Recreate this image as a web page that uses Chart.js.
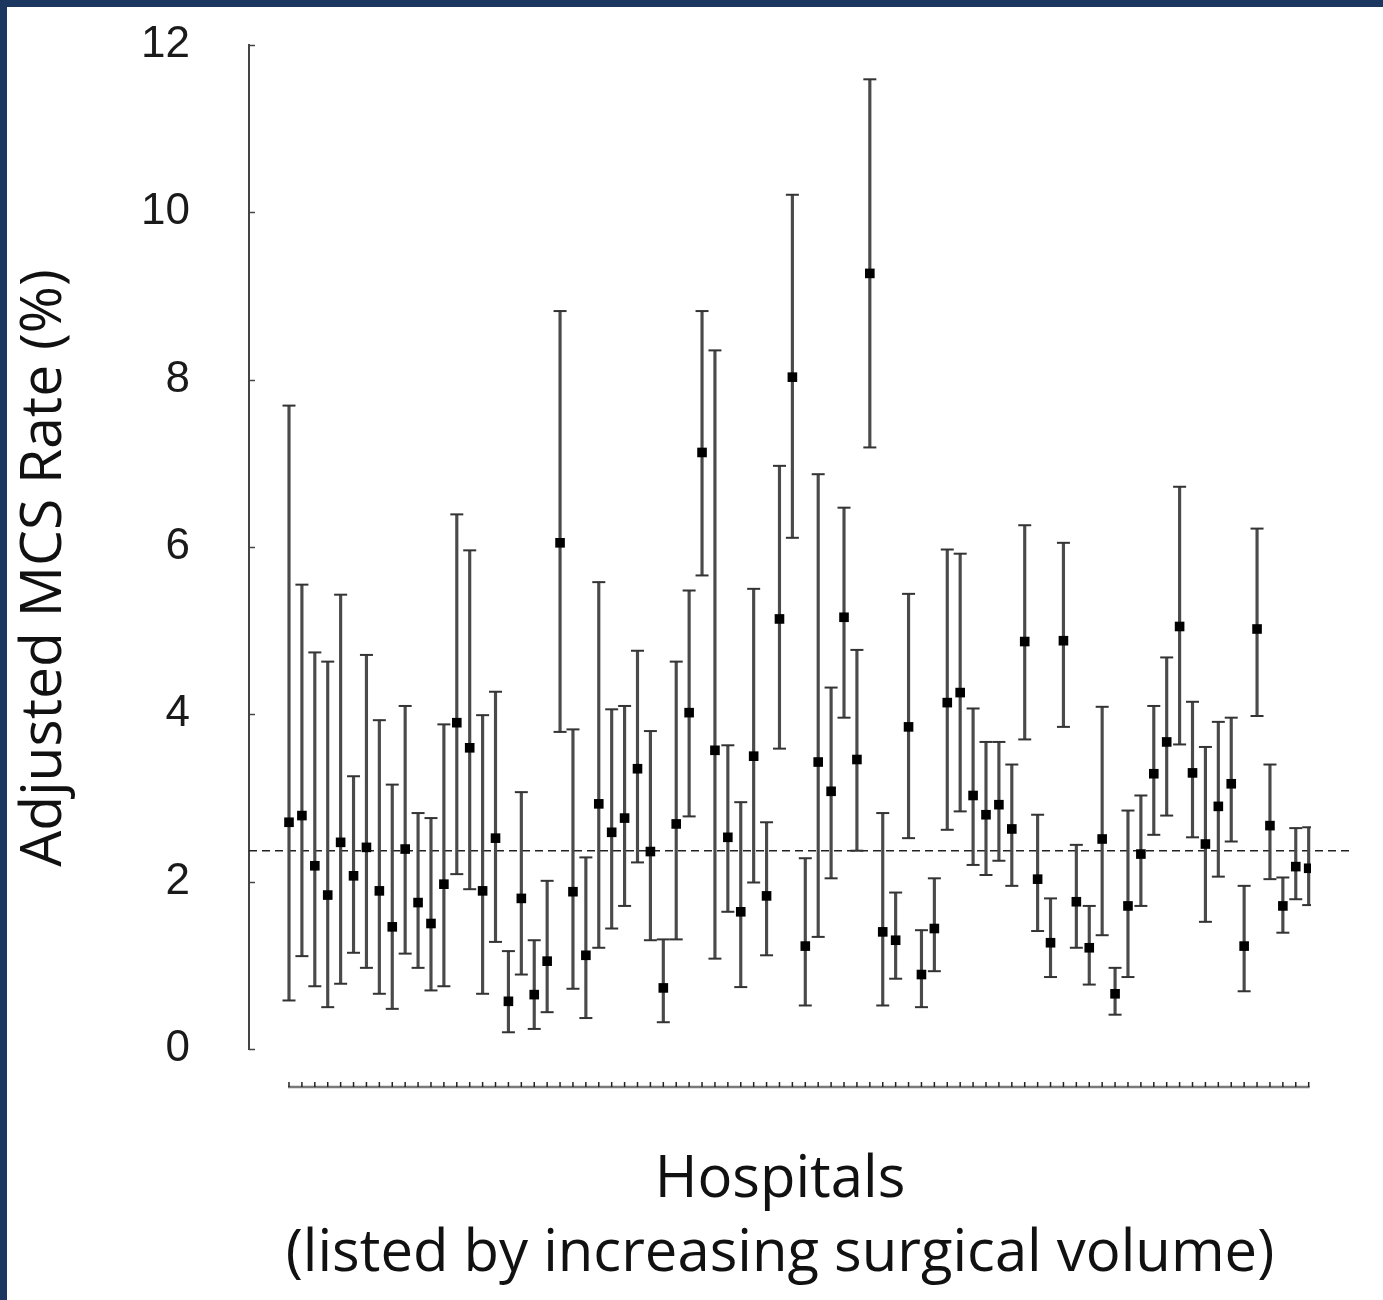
<!DOCTYPE html>
<html><head><meta charset="utf-8">
<script src="https://cdn.jsdelivr.net/npm/chart.js@4.4.1/dist/chart.umd.min.js"></script>
<style>
html,body{margin:0;padding:0;background:#1b3760;width:1383px;height:1300px;overflow:hidden}
#wrap{position:absolute;left:7px;top:7px;width:1376px;height:1293px;background:#fff}
canvas{display:block}
</style></head><body><div id="wrap"><canvas id="c" width="1376" height="1293"></canvas></div>
<script>
// Adjusted MCS rate (%) per hospital, listed by increasing surgical volume
const rate = [2.71,2.79,2.19,1.84,2.47,2.07,2.41,1.89,1.46,2.39,1.75,1.50,1.97,3.90,3.60,1.89,2.52,0.57,1.80,0.65,
              1.05,6.05,1.88,1.12,2.93,2.59,2.76,3.35,2.36,0.73,2.69,4.02,7.13,3.57,2.53,1.64,3.50,1.83,5.14,8.03,
              1.23,3.43,3.08,5.16,3.46,9.27,1.40,1.30,3.85,0.89,1.44,4.14,4.26,3.03,2.80,2.92,2.63,4.87,2.03,1.27,
              4.88,1.76,1.21,2.51,0.66,1.71,2.33,3.29,3.67,5.05,3.30,2.45,2.90,3.17,1.23,5.02,2.67,1.71,2.18,2.16];
const upper = [7.69,5.55,4.74,4.63,5.43,3.26,4.71,3.93,3.16,4.10,2.82,2.76,3.88,6.39,5.96,3.99,4.27,1.17,3.07,1.30,
               2.01,8.82,3.82,2.29,5.58,4.06,4.10,4.76,3.80,1.31,4.63,5.48,8.82,8.35,3.63,2.95,5.50,2.71,6.97,10.21,
               2.28,6.87,4.32,6.47,4.77,11.59,2.82,1.87,5.44,1.42,2.04,5.97,5.92,4.07,3.67,3.67,3.40,6.26,2.80,1.80,
               6.05,2.44,1.71,4.09,0.97,2.85,3.03,4.10,4.68,6.72,4.15,3.61,3.91,3.96,1.95,6.22,3.40,2.05,2.64,2.65];
const lower = [0.58,1.11,0.75,0.50,0.78,1.15,0.97,0.66,0.48,1.14,0.97,0.70,0.75,2.09,1.91,0.66,1.28,0.20,0.89,0.24,
               0.44,3.79,0.72,0.37,1.21,1.44,1.71,2.23,1.30,0.32,1.31,2.78,5.66,1.08,1.64,0.74,1.99,1.12,3.59,6.11,
               0.52,1.34,2.04,3.96,2.37,7.19,0.52,0.84,2.52,0.50,0.93,2.62,2.84,2.20,2.08,2.25,1.95,3.70,1.41,0.86,
               3.85,1.21,0.77,1.36,0.41,0.86,1.71,2.56,2.79,3.64,2.53,1.52,2.06,2.48,0.69,3.98,2.03,1.39,1.79,1.72];
const overallRate = 2.37;
const yTicks = [0, 2, 4, 6, 8, 10, 12];
const hospitals = rate.map((_, i) => i + 1);
const yTitle = 'Adjusted MCS Rate (%)';
const xTitle = ['Hospitals', '(listed by increasing surgical volume)'];

const X_MIN = -2.099, X_MAX = 80.18, LINE_END = 83.35;

const axisDecor = {
  id: 'axisDecor',
  afterDraw(chart) {
    const {ctx, chartArea, scales: {x, y}} = chart;
    ctx.save();
    ctx.strokeStyle = '#444'; ctx.lineWidth = 1.5;
    yTicks.forEach(v => {
      const py = Math.round(y.getPixelForValue(v)) + 0.5;
      ctx.beginPath(); ctx.moveTo(chartArea.left, py); ctx.lineTo(chartArea.left + 6, py); ctx.stroke();
    });
    const baseY = chartArea.bottom + 38;
    const x0 = x.getPixelForValue(hospitals[0]) - 1;
    const x1 = x.getPixelForValue(hospitals[hospitals.length - 1]) + 1;
    ctx.strokeStyle = '#7a7a7a'; ctx.lineWidth = 2.5;
    ctx.beginPath(); ctx.moveTo(x0, baseY); ctx.lineTo(x1, baseY); ctx.stroke();
    ctx.strokeStyle = '#222'; ctx.lineWidth = 1.5;
    hospitals.forEach(h => {
      const px = x.getPixelForValue(h);
      ctx.beginPath(); ctx.moveTo(px, baseY); ctx.lineTo(px, baseY - 5); ctx.stroke();
    });
    // y-axis title (centred slightly below the plot middle, as in the source figure)
    ctx.translate(38, (chartArea.top + chartArea.bottom) / 2 + 21);
    ctx.rotate(-Math.PI / 2);
    ctx.fillStyle = '#111';
    ctx.font = '57px "Open Sans"';
    ctx.textAlign = 'center';
    ctx.textBaseline = 'middle';
    ctx.fillText(yTitle, 0, 0);
    ctx.restore();
  }
};

new Chart(document.getElementById('c'), {
  type: 'scatter',
  data: {
    datasets: [
      {
        type: 'scatter', label: 'rate', order: 0,
        data: hospitals.map((h, i) => ({x: h, y: rate[i]})),
        pointStyle: 'rect', radius: 6.8, backgroundColor: '#000', borderColor: '#000', borderWidth: 0
      },
      {
        type: 'scatter', label: 'caps', order: 1,
        data: hospitals.map((h, i) => ({x: h, y: upper[i]})).concat(hospitals.map((h, i) => ({x: h, y: lower[i]}))),
        pointStyle: 'line', radius: 6.5, borderColor: '#333', borderWidth: 2, backgroundColor: '#333'
      },
      {
        type: 'bar', label: 'ci', order: 2, grouped: false,
        data: hospitals.map((h, i) => ({x: h, y: [lower[i], upper[i]]})),
        barThickness: 2.5, backgroundColor: '#4a4a4a', borderWidth: 0
      },
      {
        type: 'line', label: 'overall', order: 3, clip: false,
        data: [{x: X_MIN, y: overallRate}, {x: LINE_END, y: overallRate}],
        borderColor: '#222', borderWidth: 1.5, borderDash: [8, 5], pointRadius: 0, fill: false
      }
    ]
  },
  options: {
    responsive: false, maintainAspectRatio: false, animation: false,
    layout: {padding: {left: 0, top: 38, right: 72, bottom: 0}},
    plugins: {legend: {display: false}, tooltip: {enabled: false}},
    scales: {
      x: {
        type: 'linear', min: X_MIN, max: X_MAX, offset: false,
        grid: {display: false, drawTicks: false}, border: {display: false},
        ticks: {display: false},
        title: {display: true, text: xTitle, color: '#111',
                font: {family: 'Open Sans', size: 58, lineHeight: 1.28}, padding: {top: 0, bottom: 8}},
        afterFit(s) { s.height = 251; s.paddingLeft = 0; s.paddingRight = 0; }
      },
      y: {
        min: 0, max: 12,
        grid: {display: false, drawTicks: false, tickLength: 0},
        border: {display: true, color: '#444', width: 2},
        ticks: {stepSize: 2, padding: 59, color: '#1a1a1a', font: {family: 'Liberation Sans', size: 44}},
        title: {display: false},
        afterFit(s) { s.width = 242; s.paddingTop = 0; s.paddingBottom = 0; }
      }
    }
  },
  plugins: [axisDecor]
});
</script></body></html>
